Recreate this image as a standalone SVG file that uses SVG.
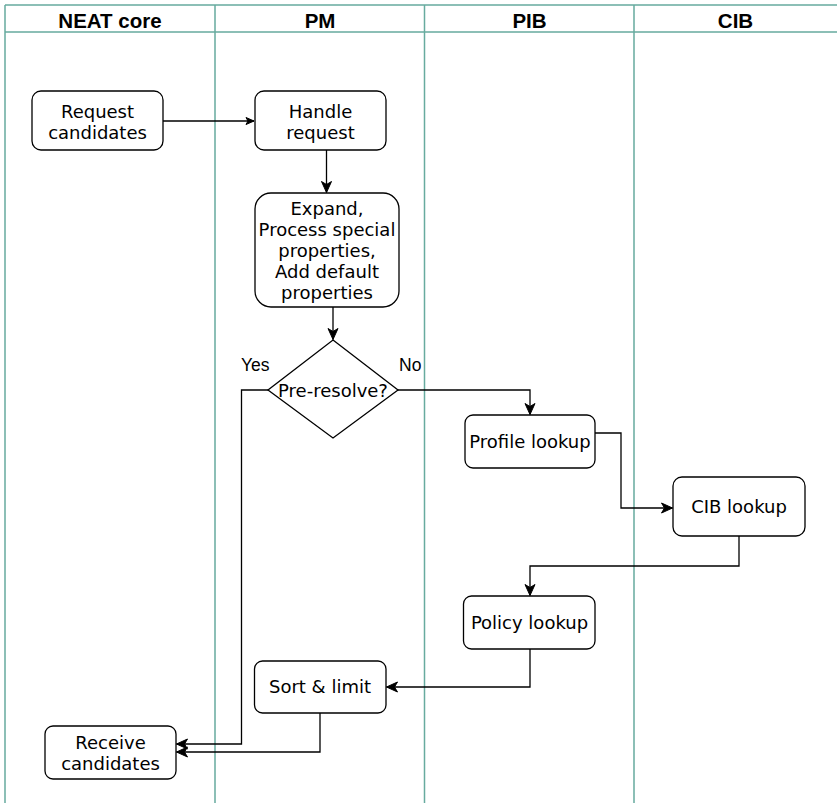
<svg xmlns="http://www.w3.org/2000/svg" width="837" height="803" viewBox="0 0 837 803">
<defs>
<marker id="arr" markerUnits="userSpaceOnUse" markerWidth="14" markerHeight="12" viewBox="-12 -6 14 12" refX="0" refY="0" orient="auto">
<path d="M0,0 L-11,-5 L-8,0 L-11,5 Z" fill="#000" stroke="#000" stroke-width="1"/>
</marker>
<marker id="arrS" markerUnits="userSpaceOnUse" markerWidth="12" markerHeight="10" viewBox="-10 -5 12 10" refX="0" refY="0" orient="auto">
<path d="M0,0 L-8,-3.5 L-6,0 L-8,3.5 Z" fill="#000" stroke="#000" stroke-width="1"/>
</marker>
</defs>
<style>
.lane{fill:none;stroke:#67AB9F;stroke-width:1.5}
.hdr{font-family:"Liberation Sans",Arial,sans-serif;font-weight:bold;font-size:20.5px;text-anchor:middle;fill:#000}
.box{fill:#fff;stroke:#000;stroke-width:1.3}
.t{font-family:"DejaVu Sans",Verdana,sans-serif;font-size:18px;text-anchor:middle;fill:#000}
.lbl{font-family:"Liberation Sans",Arial,sans-serif;font-size:17.5px;fill:#000}
.c{fill:none;stroke:#000;stroke-width:1.3}
</style>
<rect width="837" height="803" fill="#fff"/>
<g id="pool">
<path class="lane" d="M5,5 H837 M5,32 H837 M5,5 V803 M215,5 V803 M424.5,5 V803 M634,5 V803"/>
<text class="hdr" x="110" y="28">NEAT core</text>
<text class="hdr" x="320" y="28">PM</text>
<text class="hdr" x="529.5" y="28">PIB</text>
<text class="hdr" x="735.5" y="28">CIB</text>
</g>
<g id="connectors">
<path class="c" d="M163,121 H254" marker-end="url(#arrS)"/>
<path class="c" d="M326.5,150 V192.5" marker-end="url(#arr)"/>
<path class="c" d="M333,307 V339.5" marker-end="url(#arr)"/>
<path class="c" d="M398,390 H530 V414.5" marker-end="url(#arr)"/>
<path class="c" d="M595,433 H621 V508 H672.5" marker-end="url(#arr)"/>
<path class="c" d="M739,536 V566 H530 V595.5" marker-end="url(#arr)"/>
<path class="c" d="M530,649 V687 H386.5" marker-end="url(#arr)"/>
<path class="c" d="M268,390 H241.5 V744 H176.5" marker-end="url(#arr)"/>
<path class="c" d="M320,713 V752 H176.5" marker-end="url(#arr)"/>
<text class="lbl" x="241" y="371">Yes</text>
<text class="lbl" x="399" y="371">No</text>
</g>
<g id="request-candidates">
<rect class="box" x="32" y="91" width="131" height="59" rx="9"/>
<text class="t" x="97.5" y="118">Request</text>
<text class="t" x="97.5" y="139">candidates</text>
</g>
<g id="handle-request">
<rect class="box" x="255" y="91" width="131" height="59" rx="9"/>
<text class="t" x="320.5" y="118">Handle</text>
<text class="t" x="320.5" y="139">request</text>
</g>
<g id="expand">
<rect class="box" x="255" y="193" width="144" height="114" rx="16"/>
<text class="t" x="327" y="215">Expand,</text>
<text class="t" x="327" y="236">Process special</text>
<text class="t" x="327" y="257">properties,</text>
<text class="t" x="327" y="278">Add default</text>
<text class="t" x="327" y="299">properties</text>
</g>
<g id="pre-resolve">
<path class="box" d="M333,340 L398,390 L333,438 L268,390 Z"/>
<text class="t" x="333" y="396.5">Pre-resolve?</text>
</g>
<g id="profile-lookup">
<rect class="box" x="465" y="415" width="130" height="53" rx="8"/>
<text class="t" x="530" y="448">Profile lookup</text>
</g>
<g id="cib-lookup">
<rect class="box" x="673" y="477" width="132" height="59" rx="9"/>
<text class="t" x="739" y="513">CIB lookup</text>
</g>
<g id="policy-lookup">
<rect class="box" x="463.5" y="596" width="131.5" height="53" rx="8"/>
<text class="t" x="529.5" y="629">Policy lookup</text>
</g>
<g id="sort-limit">
<rect class="box" x="254.5" y="661" width="131.5" height="52" rx="8"/>
<text class="t" x="320" y="693">Sort &amp; limit</text>
</g>
<g id="receive-candidates">
<rect class="box" x="45" y="726" width="131" height="53" rx="8"/>
<text class="t" x="110.5" y="749">Receive</text>
<text class="t" x="110.5" y="770">candidates</text>
</g>
</svg>
